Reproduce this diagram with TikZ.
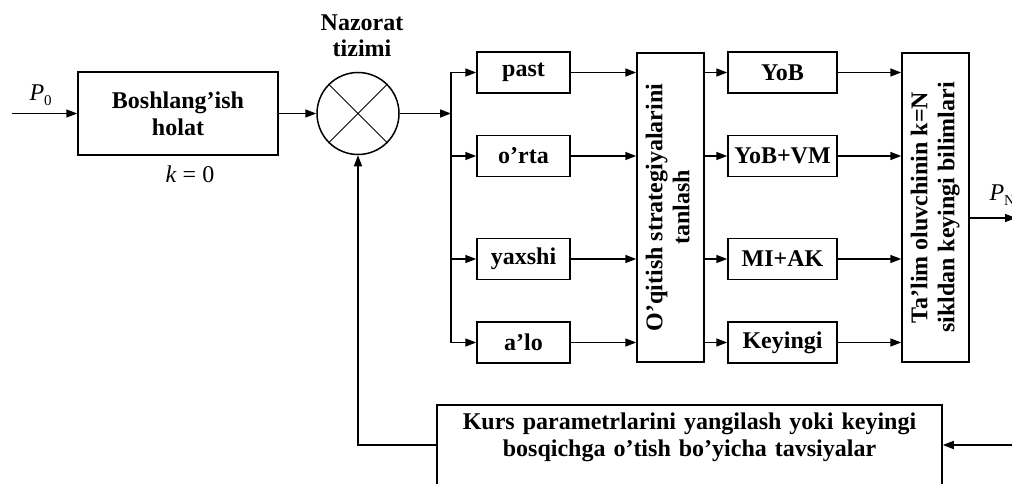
\documentclass[tikz,border=0pt]{standalone}
\usepackage{fontspec}
\usepackage{graphicx}
\setmainfont{Liberation Serif}
\usetikzlibrary{arrows.meta}

\tikzset{
  blok/.style={draw, line width=1.5pt, inner sep=0pt,
    font=\bfseries\fontsize{24}{27}\selectfont},
  arr/.style={line width=1.5pt, -{Triangle[length=11pt,width=8pt]}},
  lbl/.style={font=\fontsize{24}{28}\selectfont}
}
\newcommand{\sbs}[1]{\raisebox{-5pt}{\fontsize{15}{15}\selectfont #1}}

\begin{document}
\begin{tikzpicture}[x=1pt,y=-1pt]
  \useasboundingbox (0,0) rectangle (1012,484);
  \fill[white] (0,0) rectangle (1012,484);
  \clip (0,0) rectangle (1012,484);

  \node[blok, minimum width=200pt, minimum height=83pt, align=center] (start) at (178,113.5) {Boshlang’ish\\holat};
  \node[lbl] (k0) at (190,174) {\textit{k} = 0};
  \coordinate (p0) at (12,113.5);
  \node[lbl, anchor=west] (plab) at (26,95) {\textit{P}\sbs{0}};
  \draw[arr] (p0) -- (start.west);

  \node[draw, circle, line width=1.5pt, minimum size=82pt, inner sep=0pt] (sum) at (358,113.5) {};
  \draw[line width=0.9pt] (sum.north west) -- (sum.south east) (sum.north east) -- (sum.south west);
  \node[blok, draw=none, align=center, font=\bfseries\fontsize{24}{26}\selectfont] (naz) at (362,36) {Nazorat\\tizimi};
  \draw[arr] (start.east) -- (sum.west);

  \coordinate (bus) at (451,113.5);
  \draw[arr] (sum.east) -- (bus);

  \node[blok, minimum width=67pt, minimum height=309pt] (strat) at (670.5,207.5)
    {\rotatebox{90}{\begin{tabular}{@{}c@{}}O’qitish strategiyalarini\\tanlash\end{tabular}}};
  \node[blok, minimum width=67pt, minimum height=309pt] (know) at (935.5,207.5)
    {\rotatebox{90}{\begin{tabular}{@{}c@{}}Ta’lim oluvchinin k=N\\sikldan keyingi bilimlari\end{tabular}}};

  \foreach \y/\a/\b [count=\i] in {72.5/past/YoB, 156/o’rta/YoB+VM, 259/yaxshi/MI+AK, 342.5/a’lo/Keyingi} {
    \node[blok, minimum width=93pt, minimum height=41pt] (lvl\i) at (523.5,\y) {\a};
    \node[blok, minimum width=109pt, minimum height=41pt] (met\i) at (782.5,\y) {\b};
    \draw[arr] (bus |- lvl\i.west) -- (lvl\i.west);
    \draw[arr] (lvl\i.east) -- (lvl\i.east -| strat.west);
    \draw[arr] (strat.east |- met\i.west) -- (met\i.west);
    \draw[arr] (met\i.east) -- (met\i.east -| know.west);
  }
  \draw[line width=1.5pt] (bus |- lvl1.west) -- (bus |- lvl4.west);

  \coordinate (pn) at (1016,218);
  \draw[arr] (know.east |- pn) -- (pn);
  \node[lbl, anchor=west] (nlab) at (986,195) {\textit{P}\sbs{N}};

  \node[blok, anchor=north, minimum width=505pt, text width=495pt, align=center,
    inner ysep=8pt, text depth=80pt] (rec) at (689.5,404)
    {Kurs parametrlarini yangilash yoki keyingi\\bosqichga o’tish bo’yicha tavsiyalar};
  \draw[arr] ([yshift=-41pt]rec.north west) -| (sum.south);
  \coordinate (fin) at (1012,445);
  \draw[arr] (fin) -- (fin -| rec.east);
\end{tikzpicture}
\end{document}
